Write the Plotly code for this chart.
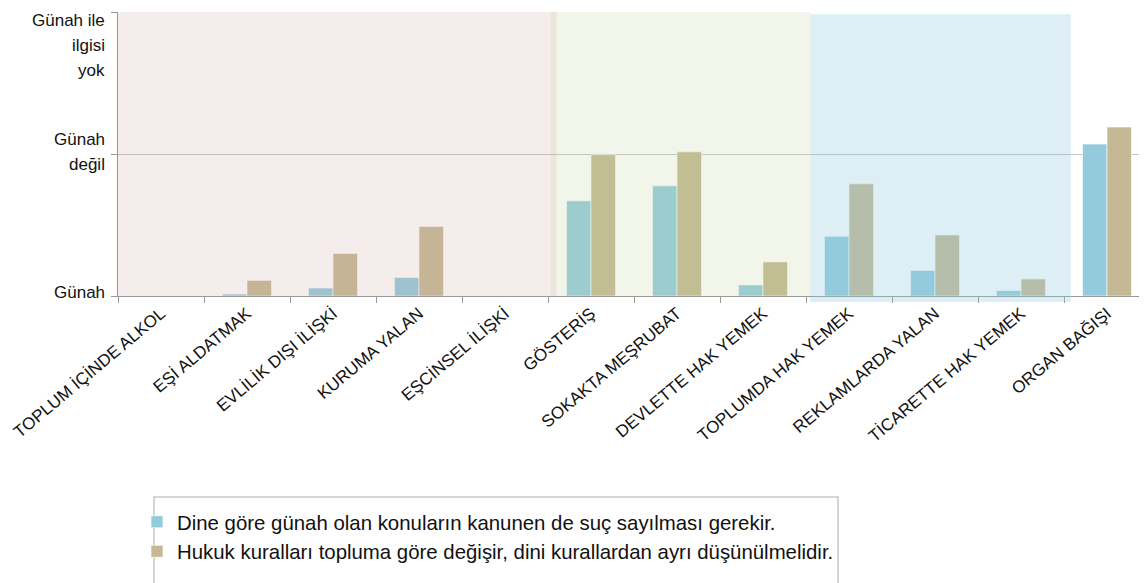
import plotly.graph_objects as go

categories = ["TOPLUM İÇİNDE ALKOL", "EŞİ ALDATMAK", "EVLİLİK DIŞI İLİŞKİ", "KURUMA YALAN",
              "EŞCİNSEL İLİŞKİ", "GÖSTERİŞ", "SOKAKTA MEŞRUBAT", "DEVLETTE HAK YEMEK",
              "TOPLUMDA HAK YEMEK", "REKLAMLARDA YALAN", "TİCARETTE HAK YEMEK", "ORGAN BAĞIŞI"]
din_suc = [0.0, 0.014, 0.056, 0.13, 0.0, 0.67, 0.776, 0.078, 0.42, 0.18, 0.038, 1.07]
hukuk_ayri = [0.0, 0.11, 0.30, 0.49, 0.0, 0.995, 1.015, 0.24, 0.79, 0.43, 0.12, 1.19]
series_names = ["Dine göre günah olan konuların kanunen de suç sayılması gerekir.",
                "Hukuk kuralları topluma göre değişir, dini kurallardan ayrı düşünülmelidir."]
y_tick_vals = [0, 1, 2]
y_tick_lines = [["Günah"], ["Günah", "değil"], ["Günah ile", "ilgisi", "yok"]]

# background groups: (start, end) in category units, colour, opacity, bottom/top in paper
regions = [(-0.5, 4.6, "rgb(205,160,160)", 0.2, 0.0, 1.0),
           (4.53, 7.55, "rgb(190,212,150)", 0.2, 0.0, 1.0),
           (7.55, 10.58, "rgb(146,203,220)", 0.31, -0.021, 0.992)]

FONT = "Liberation Sans"
W, H = 1147, 583
ML, MT = 110, 4
PW, PH = 1032, 284
MR = W - ML - PW
MB = H - MT - PH


def px_x(X):  # absolute page x -> paper
    return (X - 8 - ML) / PW


def px_y(Y):  # absolute page y -> paper
    return (MT + PH - (Y - 8)) / PH


fig = go.Figure()
fig.add_trace(go.Bar(x=categories, y=din_suc, name=series_names[0],
                     marker=dict(color="#93cbdc", line=dict(color="rgba(255,255,255,0.6)", width=1))))
fig.add_trace(go.Bar(x=categories, y=hukuk_ayri, name=series_names[1],
                     marker=dict(color="#c4b994", line=dict(color="rgba(255,255,255,0.6)", width=1))))

n = len(categories)
shapes = []
for x0, x1, col, op, y0, y1 in regions:
    shapes.append(dict(type="rect", xref="paper", yref="paper",
                       x0=(x0 + 0.5) / n, x1=(x1 + 0.5) / n, y0=y0, y1=y1,
                       fillcolor=col, opacity=op, line=dict(width=0), layer="above"))
# legend frame
shapes.append(dict(type="rect", xref="paper", yref="paper",
                   x0=px_x(154), x1=px_x(838), y0=px_y(640), y1=px_y(497),
                   line=dict(color="#c8c8c8", width=1.5), fillcolor="rgba(0,0,0,0)", layer="below"))

annotations = []
line_gap = 25
for val, lines in zip(y_tick_vals, y_tick_lines):
    k = len(lines)
    for i, t in enumerate(lines):
        if val == 2:
            shift = -8 - i * line_gap
        elif val == 0:
            shift = 4
        else:
            shift = ((k - 1) / 2 - i) * line_gap + 2
        annotations.append(dict(xref="paper", yref="y", x=0, y=val, xanchor="right",
                                yanchor="middle",
                                xshift=-11, yshift=shift, text=t, showarrow=False,
                                font=dict(family=FONT, size=17, color="#111")))

fig.update_layout(
    width=W, height=H,
    margin=dict(l=ML, r=MR, t=MT, b=MB, autoexpand=False),
    paper_bgcolor="white", plot_bgcolor="white",
    barmode="group", bargap=0.43, bargroupgap=0,
    shapes=shapes, annotations=annotations,
    font=dict(family=FONT, color="#111"),
    legend=dict(x=px_x(137), y=px_y(502), xanchor="left", yanchor="top",
                borderwidth=0, bgcolor="rgba(0,0,0,0)",
                font=dict(family=FONT, size=20.4, color="#111"), itemwidth=30),
    xaxis=dict(type="category", range=[-0.5, n - 0.5], tickson="boundaries",
               ticks="outside", ticklen=6, tickcolor="#999", showline=True, linecolor="#999",
               tickangle=-40, tickfont=dict(family=FONT, size=17, color="#111"),
               showgrid=False, fixedrange=True, automargin=False),
    yaxis=dict(range=[0, 2], tickvals=y_tick_vals, showticklabels=False, ticks="outside",
               ticklen=6, tickcolor="#999", showline=True, linecolor="#999",
               showgrid=True, gridcolor="#c4c4c4", gridwidth=1, zeroline=False),
)

fig.write_html("out.html")
